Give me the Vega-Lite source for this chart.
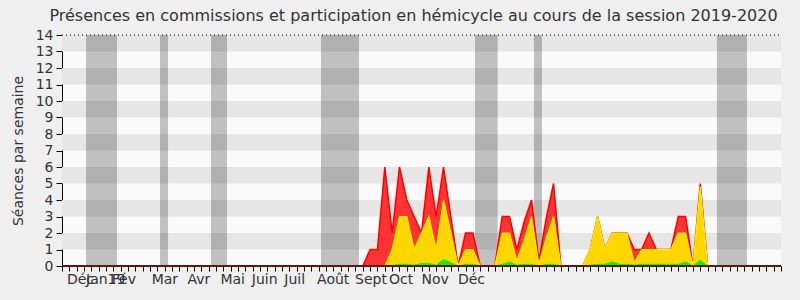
{
  "$schema": "https://vega.github.io/schema/vega-lite/v6.json",
  "autosize": "none",
  "width": 719,
  "height": 231,
  "padding": {"left": 62, "top": 35, "right": 19, "bottom": 34},
  "background": "#efefef",
  "title": {
    "text": "Présences en commissions et participation en hémicycle au cours de la session 2019-2020",
    "font": "DejaVu Sans",
    "fontSize": 16,
    "fontWeight": "normal",
    "color": "#333333",
    "anchor": "middle",
    "frame": "group",
    "baseline": "alphabetic",
    "offset": 8,
    "dx": -8,
    "dy": 17
  },
  "config": {
    "view": {"fill": "#fafafa", "stroke": null},
    "axis": {
      "labelFont": "DejaVu Sans",
      "titleFont": "DejaVu Sans",
      "labelOverlap": false,
      "labelFlush": false,
      "grid": false,
      "zindex": 1,
      "labelFontSize": 14,
      "labelColor": "#333333",
      "tickColor": "#000000",
      "domainColor": "#000000",
      "titleFontSize": 14,
      "titleFontWeight": "normal",
      "titleColor": "#333333"
    }
  },
  "datasets": {
    "stripes": [
      {"y0": 1, "y1": 2}, {"y0": 3, "y1": 4}, {"y0": 5, "y1": 6}, {"y0": 7, "y1": 8},
      {"y0": 9, "y1": 10}, {"y0": 11, "y1": 12}, {"y0": 13, "y1": 14}
    ],
    "vacances": [
      {"debut": 3.27, "fin": 7.5},
      {"debut": 13.36, "fin": 14.45},
      {"debut": 20.31, "fin": 22.49},
      {"debut": 35.3, "fin": 40.48},
      {"debut": 56.29, "fin": 59.38},
      {"debut": 64.33, "fin": 65.42},
      {"debut": 89.27, "fin": 93.36}
    ],
    "semaines": [
      {"k": 0, "r": 0, "y": 0, "g": 0}, {"k": 1, "r": 0, "y": 0, "g": 0}, {"k": 2, "r": 0, "y": 0, "g": 0},
      {"k": 3, "r": 0, "y": 0, "g": 0}, {"k": 4, "r": 0, "y": 0, "g": 0}, {"k": 5, "r": 0, "y": 0, "g": 0},
      {"k": 6, "r": 0, "y": 0, "g": 0}, {"k": 7, "r": 0, "y": 0, "g": 0}, {"k": 8, "r": 0, "y": 0, "g": 0},
      {"k": 9, "r": 0, "y": 0, "g": 0}, {"k": 10, "r": 0, "y": 0, "g": 0}, {"k": 11, "r": 0, "y": 0, "g": 0},
      {"k": 12, "r": 0, "y": 0, "g": 0}, {"k": 13, "r": 0, "y": 0, "g": 0}, {"k": 14, "r": 0, "y": 0, "g": 0},
      {"k": 15, "r": 0, "y": 0, "g": 0}, {"k": 16, "r": 0, "y": 0, "g": 0}, {"k": 17, "r": 0, "y": 0, "g": 0},
      {"k": 18, "r": 0, "y": 0, "g": 0}, {"k": 19, "r": 0, "y": 0, "g": 0}, {"k": 20, "r": 0, "y": 0, "g": 0},
      {"k": 21, "r": 0, "y": 0, "g": 0}, {"k": 22, "r": 0, "y": 0, "g": 0}, {"k": 23, "r": 0, "y": 0, "g": 0},
      {"k": 24, "r": 0, "y": 0, "g": 0}, {"k": 25, "r": 0, "y": 0, "g": 0}, {"k": 26, "r": 0, "y": 0, "g": 0},
      {"k": 27, "r": 0, "y": 0, "g": 0}, {"k": 28, "r": 0, "y": 0, "g": 0}, {"k": 29, "r": 0, "y": 0, "g": 0},
      {"k": 30, "r": 0, "y": 0, "g": 0}, {"k": 31, "r": 0, "y": 0, "g": 0}, {"k": 32, "r": 0, "y": 0, "g": 0},
      {"k": 33, "r": 0, "y": 0, "g": 0}, {"k": 34, "r": 0, "y": 0, "g": 0}, {"k": 35, "r": 0, "y": 0, "g": 0},
      {"k": 36, "r": 0, "y": 0, "g": 0}, {"k": 37, "r": 0, "y": 0, "g": 0}, {"k": 38, "r": 0, "y": 0, "g": 0},
      {"k": 39, "r": 0, "y": 0, "g": 0}, {"k": 40, "r": 0, "y": 0, "g": 0}, {"k": 41, "r": 0, "y": 0, "g": 0},
      {"k": 42, "r": 1, "y": 0, "g": 0}, {"k": 43, "r": 1, "y": 0, "g": 0}, {"k": 44, "r": 6, "y": 0, "g": 0},
      {"k": 45, "r": 2, "y": 1, "g": 0.05}, {"k": 46, "r": 6, "y": 3, "g": 0.1}, {"k": 47, "r": 4, "y": 3, "g": 0.1},
      {"k": 48, "r": 3, "y": 1, "g": 0.05}, {"k": 49, "r": 2, "y": 2, "g": 0.15}, {"k": 50, "r": 6, "y": 3, "g": 0.15},
      {"k": 51, "r": 3, "y": 1, "g": 0.05}, {"k": 52, "r": 6, "y": 4, "g": 0.4}, {"k": 53, "r": 3, "y": 2, "g": 0.2},
      {"k": 54, "r": 0, "y": 0, "g": 0}, {"k": 55, "r": 2, "y": 1, "g": 0.1}, {"k": 56, "r": 2, "y": 1, "g": 0.1},
      {"k": 57, "r": 0, "y": 0, "g": 0}, {"k": 58, "r": 0, "y": 0, "g": 0}, {"k": 59, "r": 0, "y": 0, "g": 0},
      {"k": 60, "r": 3, "y": 2, "g": 0.1}, {"k": 61, "r": 3, "y": 2, "g": 0.25}, {"k": 62, "r": 1, "y": 0.3, "g": 0.05},
      {"k": 63, "r": 2.7, "y": 1.6, "g": 0.1}, {"k": 64, "r": 4, "y": 3, "g": 0.1}, {"k": 65, "r": 0.3, "y": 0.1, "g": 0},
      {"k": 66, "r": 2.9, "y": 1.7, "g": 0.1}, {"k": 67, "r": 5, "y": 3, "g": 0.1}, {"k": 68, "r": 0, "y": 0, "g": 0},
      {"k": 69, "r": 0, "y": 0, "g": 0}, {"k": 70, "r": 0, "y": 0, "g": 0}, {"k": 71, "r": 0, "y": 0, "g": 0},
      {"k": 72, "r": 1, "y": 1, "g": 0.05}, {"k": 73, "r": 3, "y": 3, "g": 0.1}, {"k": 74, "r": 1, "y": 1, "g": 0.1},
      {"k": 75, "r": 2, "y": 2, "g": 0.25}, {"k": 76, "r": 2, "y": 2, "g": 0.1}, {"k": 77, "r": 2, "y": 2, "g": 0.1},
      {"k": 78, "r": 1, "y": 0.2, "g": 0.05}, {"k": 79, "r": 1, "y": 1, "g": 0.1}, {"k": 80, "r": 2, "y": 1, "g": 0.1},
      {"k": 81, "r": 1, "y": 1, "g": 0.1}, {"k": 82, "r": 1, "y": 1, "g": 0.1}, {"k": 83, "r": 1, "y": 1, "g": 0.1},
      {"k": 84, "r": 3, "y": 2, "g": 0.1}, {"k": 85, "r": 3, "y": 2, "g": 0.25}, {"k": 86, "r": 0, "y": 0, "g": 0},
      {"k": 87, "r": 5, "y": 4.8, "g": 0.35}, {"k": 88, "r": 0, "y": 0, "g": 0}, {"k": 89, "r": 0, "y": 0, "g": 0},
      {"k": 90, "r": 0, "y": 0, "g": 0}, {"k": 91, "r": 0, "y": 0, "g": 0}, {"k": 92, "r": 0, "y": 0, "g": 0},
      {"k": 93, "r": 0, "y": 0, "g": 0}, {"k": 94, "r": 0, "y": 0, "g": 0}, {"k": 95, "r": 0, "y": 0, "g": 0},
      {"k": 96, "r": 0, "y": 0, "g": 0}, {"k": 97, "r": 0, "y": 0, "g": 0}, {"k": 98, "r": 0, "y": 0, "g": 0}
    ]
  },
  "layer": [
    {
      "data": {"name": "stripes"},
      "mark": {"type": "rect", "color": "#e6e6e6"},
      "encoding": {
        "x": {
          "datum": 0,
          "type": "quantitative",
          "scale": {"domain": [0, 98], "nice": false, "zero": false},
          "axis": {
            "title": null,
            "tickCount": 1000,
            "values": [0,1,2,3,4,5,6,7,8,9,10,11,12,13,14,15,16,17,18,19,20,21,22,23,24,25,26,27,28,29,30,31,32,33,34,35,36,37,38,39,40,41,42,43,44,45,46,47,48,49,50,51,52,53,54,55,56,57,58,59,60,61,62,63,64,65,66,67,68,69,70,71,72,73,74,75,76,77,78,79,80,81,82,83,84,85,86,87,88,89,90,91,92,93,94,95,96,97,98,2.45,4.68,7.36,8.36,13.95,18.6,23.2,27.55,31.65,36.9,42.05,46.15,50.8,55.75],
            "labelExpr": "['Déc','Jan','19','Fév','Mar','Avr','Mai','Juin','Juil','Août','Sept','Oct','Nov','Déc'][indexof([2.45,4.68,7.36,8.36,13.95,18.6,23.2,27.55,31.65,36.9,42.05,46.15,50.8,55.75], datum.value)] || ''",
            "labelBound": false,
            "labelPadding": 1,
            "tickSize": 5,
            "tickOpacity": {"condition": {"test": "datum.value % 1 != 0", "value": 0}, "value": 1}
          }
        },
        "x2": {"datum": 98},
        "y": {
          "field": "y0",
          "type": "quantitative",
          "scale": {"domain": [0, 14], "nice": false},
          "axis": {
            "title": "Séances par semaine",
            "titlePadding": 10,
            "tickCount": 100,
            "format": "d",
            "values": [0,1,2,3,4,5,6,7,8,9,10,11,12,13,14],
            "labelPadding": 3,
            "tickSize": 6
          }
        },
        "y2": {"field": "y1"}
      }
    },
    {
      "data": {"name": "vacances"},
      "mark": {"type": "rect", "color": "#000000", "opacity": 0.23},
      "encoding": {
        "x": {"field": "debut", "type": "quantitative"},
        "x2": {"field": "fin"},
        "y": {"datum": 0, "type": "quantitative"},
        "y2": {"datum": 14}
      }
    },
    {
      "data": {"name": "semaines"},
      "mark": {"type": "area", "color": "#ff3333", "opacity": 1, "line": {"color": "#ff0000", "strokeWidth": 1.5}},
      "encoding": {
        "x": {"field": "k", "type": "quantitative"},
        "y": {"field": "r", "type": "quantitative"}
      }
    },
    {
      "data": {"name": "semaines"},
      "mark": {"type": "area", "color": "#ffd700", "opacity": 1, "line": {"color": "#ffee00", "strokeWidth": 1.2}},
      "encoding": {
        "x": {"field": "k", "type": "quantitative"},
        "y": {"field": "y", "type": "quantitative"}
      }
    },
    {
      "data": {"name": "semaines"},
      "mark": {"type": "area", "color": "#22e022", "opacity": 1, "line": {"color": "#00ff00", "strokeWidth": 1}},
      "encoding": {
        "x": {"field": "k", "type": "quantitative"},
        "y": {"field": "g", "type": "quantitative"}
      }
    },
    {
      "data": {"values": [{}]},
      "mark": {"type": "rule", "color": "#5a1a10", "strokeWidth": 2},
      "encoding": {
        "x": {"datum": 0, "type": "quantitative"},
        "x2": {"datum": 98},
        "y": {"datum": 0, "type": "quantitative"}
      }
    },
    {
      "data": {"values": [{}]},
      "mark": {"type": "rule", "color": "#000000", "strokeDash": [1, 3], "strokeWidth": 1},
      "encoding": {
        "x": {"datum": 0, "type": "quantitative"},
        "x2": {"datum": 98},
        "y": {"datum": 14, "type": "quantitative"}
      }
    }
  ]
}
